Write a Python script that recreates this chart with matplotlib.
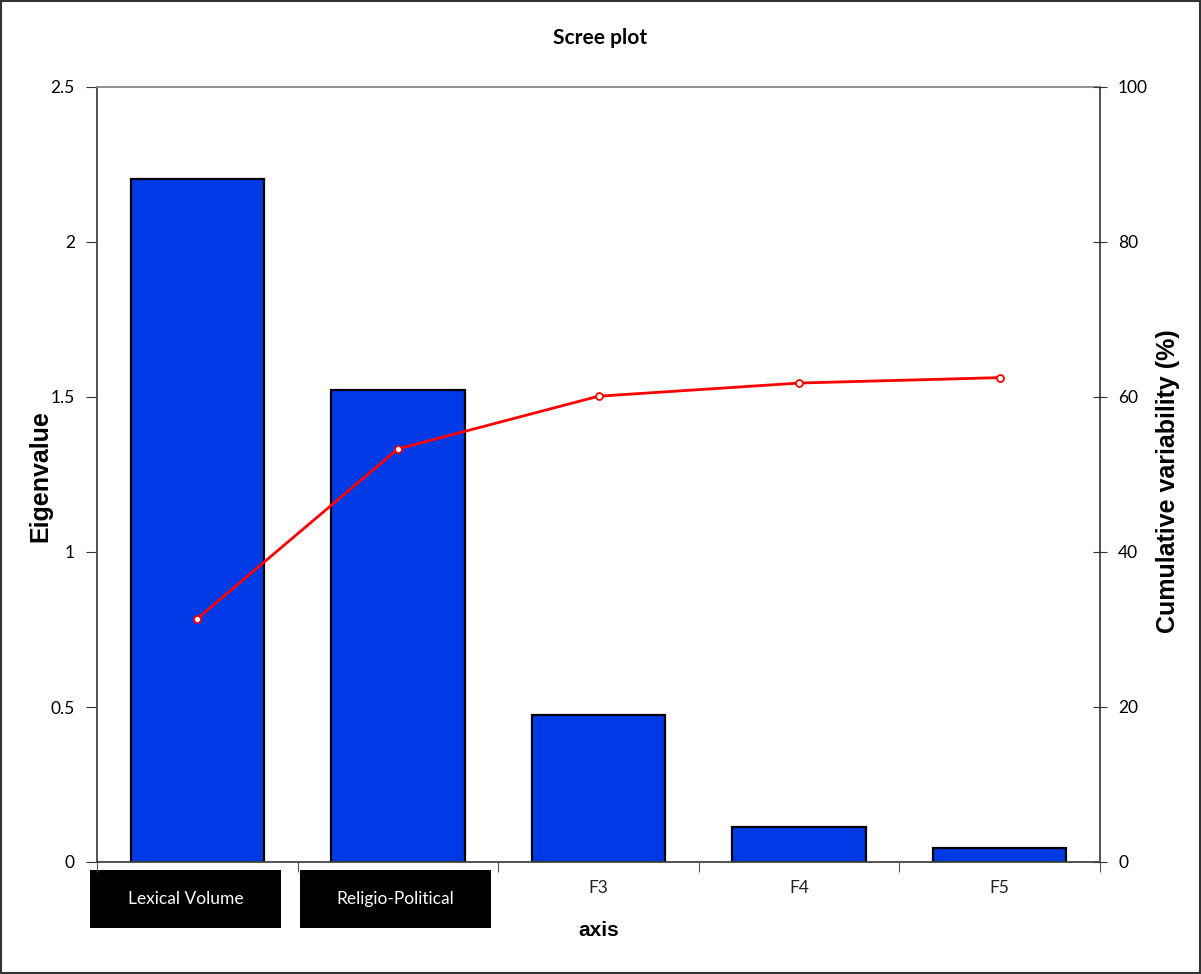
import matplotlib
matplotlib.use("Agg")
import matplotlib.pyplot as plt
from matplotlib.patches import Rectangle

categories = ["Lexical Volume", "Religio-Political", "F3", "F4", "F5"]
eigenvalues = [2.203, 1.523, 0.474, 0.113, 0.045]
cumulative = [31.4, 53.3, 60.1, 61.8, 62.5]
boxed_labels = [True, True, False, False, False]

plt.rcParams['font.family'] = ['Lato', 'DejaVu Sans']

fig = plt.figure(figsize=(12.01, 9.74), dpi=100)
W, H = 1201, 974
ax1 = fig.add_axes([97 / W, 1 - 862 / H, (1100 - 97) / W, (862 - 87) / H])

x = list(range(len(categories)))
ax1.bar(x, eigenvalues, width=0.665, color="#0039E6", edgecolor="black", linewidth=1.6, zorder=2)
ax1.set_xlim(-0.5, len(categories) - 0.5)
ax1.set_ylim(0, 2.5)
ax1.set_yticks([0, 0.5, 1, 1.5, 2, 2.5])
ax1.set_yticklabels(["0", "0.5", "1", "1.5", "2", "2.5"], fontsize=12.5)
ax1.set_xticks([i + 0.5 for i in range(-1, len(categories))])
ax1.set_xticklabels([])
ax1.tick_params(axis="x", direction="out", length=7, color="#555555")
ax1.tick_params(axis="y", direction="out", length=8, color="#333333", pad=8)
ax1.spines["top"].set_color("#888888")
for side in ["left", "bottom", "right"]:
    ax1.spines[side].set_color("#444444")
for s in ax1.spines.values():
    s.set_linewidth(1.3)

# black boxes behind the first two labels (pixel layout -> data units)
px = (1100 - 97) / len(categories)
for i, (lab, boxed) in enumerate(zip(categories, boxed_labels)):
    if boxed:
        left = (90 + i * 210 - 97) / px - 0.5
        width = 191 / px
        ax1.add_patch(Rectangle((left, -0.212), width, 0.185, transform=ax1.transData,
                                facecolor="black", edgecolor="none", clip_on=False, zorder=1))
        ax1.text(left + width / 2, -0.119, lab, ha="center", va="center", fontsize=12.5,
                 color="white", clip_on=False)
    else:
        ax1.text(i, -0.085, lab, ha="center", va="center", fontsize=12.5, color="#222222", clip_on=False)

ax1.set_ylabel("Eigenvalue", fontsize=18, fontweight="bold", family="Liberation Sans")
ax1.yaxis.set_label_coords(-0.0448, 0.498)
ax1.set_xlabel("axis", fontsize=15, fontweight="bold", family="Liberation Sans")
ax1.xaxis.set_label_coords(0.5, -0.076)
fig.text(600 / W, 1 - 38 / H, "Scree plot", ha="center", va="center", fontsize=15, fontweight="bold")

ax2 = ax1.twinx()
ax2.plot(x, cumulative, color="#FF0000", linewidth=2, marker="o", markersize=5,
         markerfacecolor="white", markeredgecolor="#FF0000", markeredgewidth=1.3, zorder=3)
ax2.set_ylim(0, 100)
ax2.set_yticks([0, 20, 40, 60, 80, 100])
ax2.set_yticklabels(["0", "20", "40", "60", "80", "100"], fontsize=12.5)
ax2.tick_params(axis="y", direction="inout", length=10, color="#333333", pad=8)
ax2.set_ylabel("Cumulative variability (%)", fontsize=18, fontweight="bold",
               family="Liberation Sans")
ax2.yaxis.set_label_coords(1.056, 0.4916)
for s in ax2.spines.values():
    s.set_visible(False)

fig.patches.append(Rectangle((0.001, 0.001), 0.998, 0.998, transform=fig.transFigure,
                             fill=False, edgecolor="#333333", linewidth=1.5))

fig.savefig("out.png", dpi=100)
